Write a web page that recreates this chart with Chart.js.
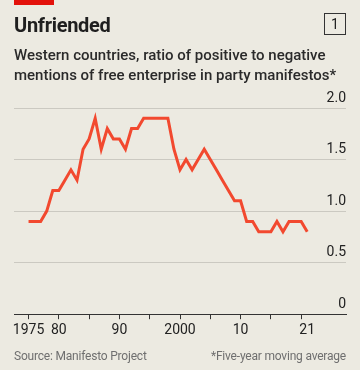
<!DOCTYPE html>
<html>
<head>
<meta charset="utf-8">
<script src="https://cdn.jsdelivr.net/npm/chart.js@4/dist/chart.umd.min.js"></script>
<style>
  html, body { margin:0; padding:0; }
  body { width:360px; height:370px; background:#ECEAE1; position:relative; overflow:hidden;
         font-family: Roboto, "Noto Sans", sans-serif; color:#1f1f1f; }
  #chartbox { position:absolute; left:0; top:0; width:360px; height:370px; }
  .redbar { position:absolute; left:14px; top:0; width:40px; height:5px; background:#E3120B; }
  .title { position:absolute; left:14px; top:13px; font-size:20px; font-weight:700; letter-spacing:-0.3px; line-height:24px; }
  .num { position:absolute; left:324px; top:13px; width:22px; height:22px; box-sizing:border-box;
         border:1px solid #333; font-size:14px; line-height:20px; text-align:center; }
  .sub { position:absolute; left:14px; top:46px; width:340px; font-size:15px; font-weight:500; line-height:19.5px; color:#2a2a2a; }
  .foot { position:absolute; top:348px; font-size:12px; letter-spacing:-0.2px; color:#6f6f6f; line-height:16px; }
</style>
</head>
<body>
<div id="chartbox"><canvas id="chart"></canvas></div>
<div class="redbar"></div>
<div class="title">Unfriended</div>
<div class="num">1</div>
<div class="sub">Western countries, ratio of positive to negative mentions of free enterprise in party manifestos*</div>
<div class="foot" style="left:14px;">Source: Manifesto Project</div>
<div class="foot" style="right:14px;">*Five-year moving average</div>
<script>
// five-year moving average, one value per year
const years = [1975,1976,1977,1978,1979,1980,1981,1982,1983,1984,1985,1986,1987,1988,1989,
  1990,1991,1992,1993,1994,1995,1996,1997,1998,1999,2000,2001,2002,2003,2004,2005,2006,2007,
  2008,2009,2010,2011,2012,2013,2014,2015,2016,2017,2018,2019,2020,2021]
const ratio = [0.9,0.9,0.9,1.0,1.2,1.2,1.3,1.4,1.3,1.6,1.7,1.9,1.6,1.8,1.7,
  1.7,1.6,1.8,1.8,1.9,1.9,1.9,1.9,1.9,1.6,1.4,1.5,1.4,1.5,1.6,1.5,1.4,1.3,
  1.2,1.1,1.1,0.9,0.9,0.8,0.8,0.8,0.9,0.8,0.9,0.9,0.9,0.8]

const xTickYears  = [1975,1980,1985,1990,1995,2000,2005,2010,2015,2020,2021]
const xTickLabels = ['1975','80','','90','','2000','','10','','','21']
const yTickValues = [0,0.5,1,1.5,2]
const yTickLabels = ['0','0.5','1.0','1.5','2.0']

const ctx = document.getElementById('chart').getContext('2d')
const chart = new Chart(ctx, {
  type: 'line',
  data: {
    datasets: [{
      data: years.map((y, i) => ({x: y, y: ratio[i]})),
      borderColor: '#F2492F',
      borderWidth: 3,
      pointRadius: 0,
      tension: 0,
      fill: false
    }]
  },
  options: {
    responsive: true,
    maintainAspectRatio: false,
    animation: false,
    layout: { padding: { left: 14, right: 14, top: 108, bottom: 28 } },
    plugins: { legend: { display: false }, tooltip: { enabled: false } },
    scales: {
      x: {
        type: 'linear',
        min: 1972.6,
        max: 2027.4,
        afterBuildTicks: axis => { axis.ticks = xTickYears.map(v => ({value: v})) },
        ticks: {
          autoSkip: false,
          maxRotation: 0,
          padding: 3,
          color: '#222',
          font: { family: 'Roboto', size: 14 },
          callback: v => xTickLabels[xTickYears.indexOf(v)]
        },
        grid: {
          drawOnChartArea: false,
          drawTicks: true,
          tickLength: 5,
          tickWidth: 1,
          tickColor: c => (c.tick && c.tick.value % 5 === 0) ? '#333' : 'rgba(0,0,0,0)'
        },
        border: { display: true, color: '#333', width: 1 }
      },
      y: {
        position: 'right',
        min: 0,
        max: 2,
        afterBuildTicks: axis => { axis.ticks = yTickValues.map(v => ({value: v})) },
        ticks: {
          mirror: true,
          padding: 0,
          labelOffset: -10,
          color: '#222',
          font: { family: 'Roboto', size: 14 },
          callback: v => yTickLabels[yTickValues.indexOf(v)]
        },
        grid: {
          drawTicks: false,
          color: c => (c.tick && c.tick.value === 0) ? 'rgba(0,0,0,0)' : '#CBC9C1',
          lineWidth: 1
        },
        border: { display: false }
      }
    }
  }
})
</script>
</body>
</html>
